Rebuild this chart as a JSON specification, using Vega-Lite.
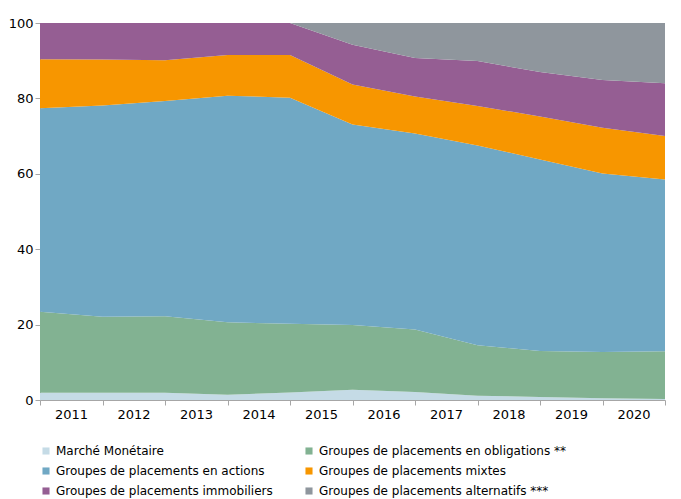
{
  "$schema": "https://vega.github.io/schema/vega-lite/v6.json",
  "width": 625,
  "height": 377,
  "autosize": "none",
  "padding": {"left": 40, "top": 23, "right": 16, "bottom": 99},
  "background": "white",
  "config": {
    "view": {"stroke": null},
    "font": "DejaVu Sans",
    "axis": {"labelFont": "DejaVu Sans", "labelFontSize": 13, "labelColor": "#000000", "domainColor": "#a6a6a6", "tickColor": "#a6a6a6", "grid": false, "title": null}
  },
  "data": {
    "values": [
      {"t": 2011, "serie": "Marché Monétaire", "k": 1, "v": 1.95},
      {"t": 2012, "serie": "Marché Monétaire", "k": 1, "v": 1.95},
      {"t": 2013, "serie": "Marché Monétaire", "k": 1, "v": 1.9},
      {"t": 2014, "serie": "Marché Monétaire", "k": 1, "v": 1.4},
      {"t": 2015, "serie": "Marché Monétaire", "k": 1, "v": 2.0},
      {"t": 2016, "serie": "Marché Monétaire", "k": 1, "v": 2.7},
      {"t": 2017, "serie": "Marché Monétaire", "k": 1, "v": 2.1},
      {"t": 2018, "serie": "Marché Monétaire", "k": 1, "v": 1.15},
      {"t": 2019, "serie": "Marché Monétaire", "k": 1, "v": 0.8},
      {"t": 2020, "serie": "Marché Monétaire", "k": 1, "v": 0.45},
      {"t": 2021, "serie": "Marché Monétaire", "k": 1, "v": 0.25},
      {"t": 2011, "serie": "Groupes de placements en obligations **", "k": 2, "v": 21.45},
      {"t": 2012, "serie": "Groupes de placements en obligations **", "k": 2, "v": 20.15},
      {"t": 2013, "serie": "Groupes de placements en obligations **", "k": 2, "v": 20.3},
      {"t": 2014, "serie": "Groupes de placements en obligations **", "k": 2, "v": 19.2},
      {"t": 2015, "serie": "Groupes de placements en obligations **", "k": 2, "v": 18.2},
      {"t": 2016, "serie": "Groupes de placements en obligations **", "k": 2, "v": 17.2},
      {"t": 2017, "serie": "Groupes de placements en obligations **", "k": 2, "v": 16.6},
      {"t": 2018, "serie": "Groupes de placements en obligations **", "k": 2, "v": 13.35},
      {"t": 2019, "serie": "Groupes de placements en obligations **", "k": 2, "v": 12.2},
      {"t": 2020, "serie": "Groupes de placements en obligations **", "k": 2, "v": 12.25},
      {"t": 2021, "serie": "Groupes de placements en obligations **", "k": 2, "v": 12.65},
      {"t": 2011, "serie": "Groupes de placements en actions", "k": 3, "v": 54.0},
      {"t": 2012, "serie": "Groupes de placements en actions", "k": 3, "v": 56.0},
      {"t": 2013, "serie": "Groupes de placements en actions", "k": 3, "v": 57.1},
      {"t": 2014, "serie": "Groupes de placements en actions", "k": 3, "v": 60.1},
      {"t": 2015, "serie": "Groupes de placements en actions", "k": 3, "v": 60.0},
      {"t": 2016, "serie": "Groupes de placements en actions", "k": 3, "v": 53.2},
      {"t": 2017, "serie": "Groupes de placements en actions", "k": 3, "v": 52.0},
      {"t": 2018, "serie": "Groupes de placements en actions", "k": 3, "v": 53.0},
      {"t": 2019, "serie": "Groupes de placements en actions", "k": 3, "v": 50.8},
      {"t": 2020, "serie": "Groupes de placements en actions", "k": 3, "v": 47.4},
      {"t": 2021, "serie": "Groupes de placements en actions", "k": 3, "v": 45.6},
      {"t": 2011, "serie": "Groupes de placements mixtes", "k": 4, "v": 13.0},
      {"t": 2012, "serie": "Groupes de placements mixtes", "k": 4, "v": 12.2},
      {"t": 2013, "serie": "Groupes de placements mixtes", "k": 4, "v": 10.8},
      {"t": 2014, "serie": "Groupes de placements mixtes", "k": 4, "v": 10.8},
      {"t": 2015, "serie": "Groupes de placements mixtes", "k": 4, "v": 11.3},
      {"t": 2016, "serie": "Groupes de placements mixtes", "k": 4, "v": 10.6},
      {"t": 2017, "serie": "Groupes de placements mixtes", "k": 4, "v": 9.8},
      {"t": 2018, "serie": "Groupes de placements mixtes", "k": 4, "v": 10.5},
      {"t": 2019, "serie": "Groupes de placements mixtes", "k": 4, "v": 11.4},
      {"t": 2020, "serie": "Groupes de placements mixtes", "k": 4, "v": 12.1},
      {"t": 2021, "serie": "Groupes de placements mixtes", "k": 4, "v": 11.5},
      {"t": 2011, "serie": "Groupes de placements immobiliers", "k": 5, "v": 9.6},
      {"t": 2012, "serie": "Groupes de placements immobiliers", "k": 5, "v": 9.7},
      {"t": 2013, "serie": "Groupes de placements immobiliers", "k": 5, "v": 9.9},
      {"t": 2014, "serie": "Groupes de placements immobiliers", "k": 5, "v": 8.5},
      {"t": 2015, "serie": "Groupes de placements immobiliers", "k": 5, "v": 8.5},
      {"t": 2016, "serie": "Groupes de placements immobiliers", "k": 5, "v": 10.5},
      {"t": 2017, "serie": "Groupes de placements immobiliers", "k": 5, "v": 10.2},
      {"t": 2018, "serie": "Groupes de placements immobiliers", "k": 5, "v": 11.9},
      {"t": 2019, "serie": "Groupes de placements immobiliers", "k": 5, "v": 11.8},
      {"t": 2020, "serie": "Groupes de placements immobiliers", "k": 5, "v": 12.7},
      {"t": 2021, "serie": "Groupes de placements immobiliers", "k": 5, "v": 14.0},
      {"t": 2011, "serie": "Groupes de placements alternatifs ***", "k": 6, "v": 0},
      {"t": 2012, "serie": "Groupes de placements alternatifs ***", "k": 6, "v": 0},
      {"t": 2013, "serie": "Groupes de placements alternatifs ***", "k": 6, "v": 0},
      {"t": 2014, "serie": "Groupes de placements alternatifs ***", "k": 6, "v": 0},
      {"t": 2015, "serie": "Groupes de placements alternatifs ***", "k": 6, "v": 0},
      {"t": 2016, "serie": "Groupes de placements alternatifs ***", "k": 6, "v": 5.8},
      {"t": 2017, "serie": "Groupes de placements alternatifs ***", "k": 6, "v": 9.3},
      {"t": 2018, "serie": "Groupes de placements alternatifs ***", "k": 6, "v": 10.1},
      {"t": 2019, "serie": "Groupes de placements alternatifs ***", "k": 6, "v": 13.0},
      {"t": 2020, "serie": "Groupes de placements alternatifs ***", "k": 6, "v": 15.1},
      {"t": 2021, "serie": "Groupes de placements alternatifs ***", "k": 6, "v": 16.0}
    ]
  },
  "mark": {"type": "area", "clip": true},
  "encoding": {
    "x": {
      "field": "t",
      "type": "quantitative",
      "scale": {"domain": [2011, 2021], "nice": false, "zero": false},
      "axis": {
        "values": [2011, 2012, 2013, 2014, 2015, 2016, 2017, 2018, 2019, 2020, 2021],
        "labelExpr": "datum.value < 2021 ? format(datum.value, 'd') : ''",
        "labelOffset": 31,
        "labelOverlap": false,
        "labelBound": false,
        "labelFlush": false,
        "tickSize": 5,
        "labelPadding": 3
      }
    },
    "y": {
      "field": "v",
      "type": "quantitative",
      "stack": "zero",
      "scale": {"domain": [0, 100], "nice": false},
      "axis": {"values": [0, 20, 40, 60, 80, 100], "tickSize": 5, "labelPadding": 2}
    },
    "color": {
      "field": "serie",
      "type": "nominal",
      "scale": {
        "domain": ["Marché Monétaire", "Groupes de placements en obligations **", "Groupes de placements en actions", "Groupes de placements mixtes", "Groupes de placements immobiliers", "Groupes de placements alternatifs ***"],
        "range": ["#c5dbe6", "#82b292", "#70a8c4", "#f79600", "#955e93", "#8f969d"]
      },
      "legend": {
        "title": null,
        "orient": "bottom",
        "direction": "horizontal",
        "columns": 2,
        "symbolType": "square",
        "symbolSize": 50,
        "symbolStrokeWidth": 0,
        "labelFont": "DejaVu Sans",
        "labelFontSize": 12,
        "labelColor": "#000000",
        "labelLimit": 400,
        "columnPadding": 30,
        "rowPadding": 8,
        "offset": 24
      }
    },
    "order": {"field": "k", "type": "quantitative"}
  }
}
